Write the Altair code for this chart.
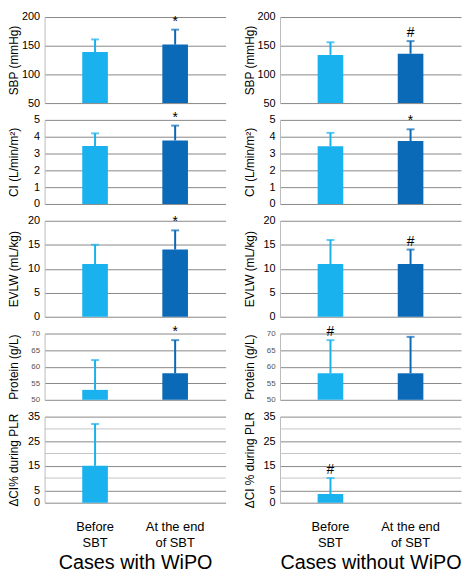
import altair as alt
import pandas as pd

categories = ["Before SBT", "At the end of SBT"]

# Cases with WiPO
with_sbp_mean = [139, 152]
with_sbp_sd = [22, 26]
with_ci_mean = [3.45, 3.78]
with_ci_sd = [0.75, 0.88]
with_evlw_mean = [11, 14]
with_evlw_sd = [4, 4]
with_prot_mean = [53, 58]
with_prot_sd = [9, 10]
with_dci_mean = [15]
with_dci_sd = [17]
with_marks = [["", "*"], ["", "*"], ["", "*"], ["", "*"], [""]]

# Cases without WiPO
wo_sbp_mean = [134, 136]
wo_sbp_sd = [22, 22]
wo_ci_mean = [3.43, 3.74]
wo_ci_sd = [0.8, 0.7]
wo_evlw_mean = [11, 11]
wo_evlw_sd = [5, 3]
wo_prot_mean = [58, 58]
wo_prot_sd = [10, 11]
wo_dci_mean = [3.5]
wo_dci_sd = [6.5]
wo_marks = [["", "#"], ["", "*"], ["", "#"], ["#", ""], ["#"]]

titles_with = ["SBP (mmHg)", "CI (L/min/m²)", "EVLW (mL/kg)", "Protein (g/L)", "ΔCI% during PLR"]
titles_wo = ["SBP (mmHg)", "CI (L/min/m²)", "EVLW (mL/kg)", "Protein (g/L)", "ΔCI % during PLR"]
y_domains = [[50, 200], [0, 5], [0, 20], [50, 70], [0, 35]]
y_ticks = [[50, 100, 150, 200], [0, 1, 2, 3, 4, 5], [0, 5, 10, 15, 20], [50, 55, 60, 65, 70], [0, 5, 15, 25, 35]]
y_minor = [[], [], [], [], [10, 20, 30]]
heights = [87, 85, 97, 67, 87]

LIGHT = "#1ab2ee"
DARK = "#0a6ab8"
ERR_LIGHT = "#2ab4ef"
ERR_DARK = "#1765a8"
W = 183


def panel(means, sds, marks, idx, title, bottom, group_title):
    n = len(means)
    df = pd.DataFrame({
        "cat": categories[:n],
        "mean": means,
        "top": [m + s for m, s in zip(means, sds)],
        "base": [y_domains[idx][0]] * n,
        "mark": marks,
    })
    if bottom:
        xaxis = alt.Axis(
            title=group_title, titleFontSize=20, titleFontWeight="normal", titleColor="black",
            labelFontSize=13, labelAngle=0, labelColor="black", domain=False, ticks=False,
            labelPadding=18, titlePadding=4, labelLineHeight=16,
            labelExpr="datum.value == 'Before SBT' ? ['Before', 'SBT'] : ['At the end', 'of SBT']",
        )
    else:
        xaxis = None
    x = alt.X("cat:N", sort=categories, axis=xaxis,
              scale=alt.Scale(domain=categories, paddingInner=0.68, paddingOuter=0.47))
    yscale = alt.Scale(domain=y_domains[idx], zero=False, nice=False)
    small = idx == 3
    yaxis = alt.Axis(
        values=y_ticks[idx], title=title, grid=True, gridColor="#888", gridWidth=1,
        domain=True, domainColor="#bbb", ticks=False, labelPadding=5, labelOverlap=False,
        labelFontSize=8 if small else 11, labelColor="#555" if small else "black",
        titleFontSize=12, titleFontWeight="normal", titleColor="black",
        titlePadding=2, minExtent=22, maxExtent=22,
    )
    color = alt.Color("cat:N", scale=alt.Scale(domain=categories, range=[LIGHT, DARK]), legend=None)
    ecolor = alt.Color("cat:N", scale=alt.Scale(domain=categories, range=[ERR_LIGHT, ERR_DARK]), legend=None)
    base = alt.Chart(df)
    layers = []
    if y_minor[idx]:
        layers.append(
            alt.Chart(pd.DataFrame({"v": y_minor[idx]})).mark_rule(color="#c4c4c4", strokeWidth=1)
            .encode(y=alt.Y("v:Q", scale=yscale, axis=yaxis))
        )
    layers.append(base.mark_bar().encode(
        x=x, y=alt.Y("mean:Q", scale=yscale, axis=yaxis), y2="base:Q", color=color))
    layers.append(base.mark_rule(strokeWidth=2).encode(
        x=x, y=alt.Y("mean:Q", scale=yscale, axis=yaxis), y2="top:Q", color=ecolor))
    layers.append(base.mark_tick(size=8, thickness=2).encode(
        x=x, y=alt.Y("top:Q", scale=yscale, axis=yaxis), color=ecolor))
    layers.append(base.mark_text(baseline="bottom", dy=-1, fontSize=14, color="black").encode(
        x=x, y=alt.Y("top:Q", scale=yscale, axis=yaxis), text="mark:N"))
    return alt.layer(*layers).properties(width=W, height=heights[idx])


def column(data, marks, titles, group_title):
    panels = []
    for i, (m, s) in enumerate(data):
        panels.append(panel(m, s, marks[i], i, titles[i], i == 4, group_title))
    return alt.vconcat(*panels, spacing=17, bounds="flush")


left = column(
    [(with_sbp_mean, with_sbp_sd), (with_ci_mean, with_ci_sd), (with_evlw_mean, with_evlw_sd),
     (with_prot_mean, with_prot_sd), (with_dci_mean, with_dci_sd)],
    with_marks, titles_with, "Cases with WiPO")
right = column(
    [(wo_sbp_mean, wo_sbp_sd), (wo_ci_mean, wo_ci_sd), (wo_evlw_mean, wo_evlw_sd),
     (wo_prot_mean, wo_prot_sd), (wo_dci_mean, wo_dci_sd)],
    wo_marks, titles_wo, "Cases without WiPO")

chart = (
    alt.hconcat(left, right, spacing=17)
    .properties(padding=0)
    .configure(font="Liberation Sans")
    .configure_view(stroke=None)
)

chart.save("out.html", embed_options={"renderer": "svg", "actions": False})
